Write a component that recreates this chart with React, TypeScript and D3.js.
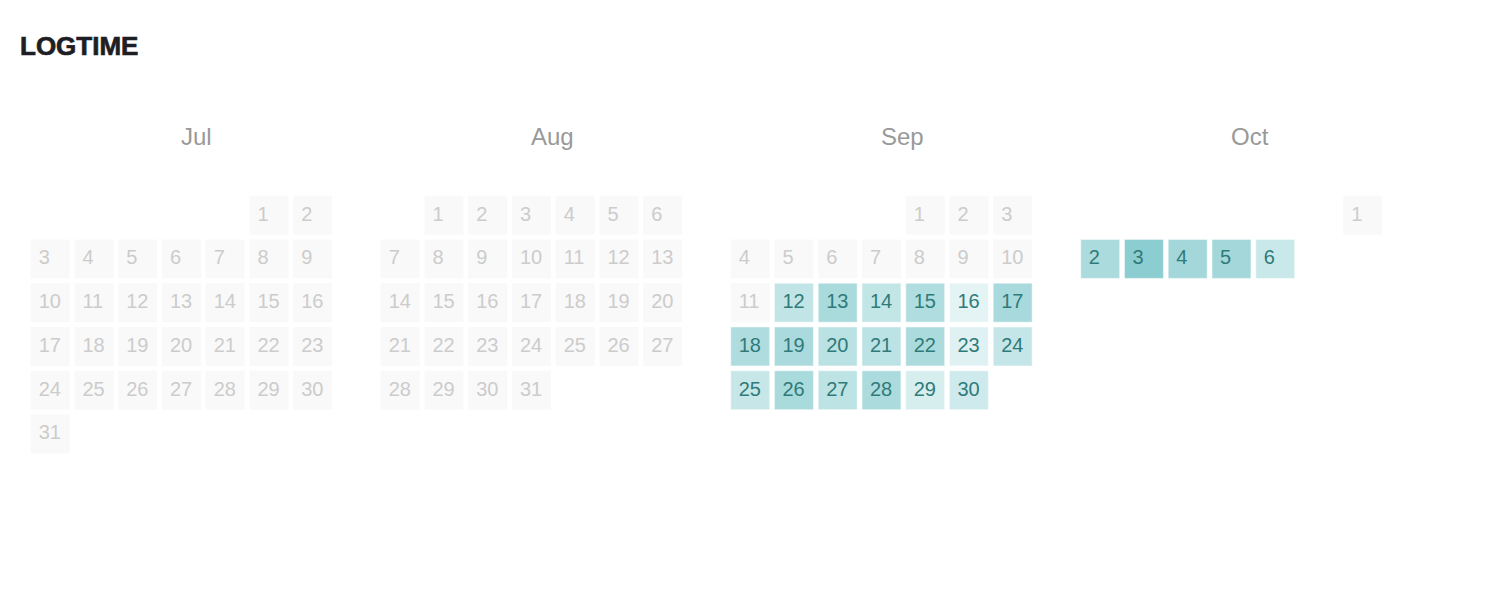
import React from 'react';
import * as d3 from 'd3';

const year = 2017;
const months = ['Jul', 'Aug', 'Sep', 'Oct'];
const weekdays = ['Mon', 'Tue', 'Wed', 'Thu', 'Fri', 'Sat', 'Sun'];
const lastDay = '2017-10-06';

// logged days and hours per day
const logDays = [
  '2017-09-12', '2017-09-13', '2017-09-14', '2017-09-15', '2017-09-16', '2017-09-17',
  '2017-09-18', '2017-09-19', '2017-09-20', '2017-09-21', '2017-09-22', '2017-09-23', '2017-09-24',
  '2017-09-25', '2017-09-26', '2017-09-27', '2017-09-28', '2017-09-29', '2017-09-30',
  '2017-10-02', '2017-10-03', '2017-10-04', '2017-10-05', '2017-10-06',
];
const logHours = [
  5.2, 8.3, 5.1, 7.4, 0.8, 8.4,
  7.5, 8.2, 6.1, 6.0, 8.0, 1.4, 4.7,
  4.6, 8.3, 5.7, 7.9, 2.4, 3.4,
  7.9, 12, 9.1, 9.0, 4.2,
];

const W = 1490;
const H = 596;
const step = 43.75;
const cell = 39;

const parse = d3.timeParse('%Y-%m-%d');
const fmt = d3.timeFormat('%Y-%m-%d');
const hoursByDay = new Map(logDays.map((d, i) => [d, logHours[i]]));

const monthX = d3
  .scaleBand<string>()
  .domain(months)
  .range([30.7, 30.7 + 350 * months.length]);

const colX = d3
  .scaleBand<string>()
  .domain(weekdays)
  .range([0, step * 7 - (step - cell)])
  .paddingInner((step - cell) / step)
  .paddingOuter(0);

const rowY = d3
  .scaleLinear()
  .domain([0, 1])
  .range([195.7, 195.7 + step]);

const color = d3
  .scaleLinear<string>()
  .domain([0, 12])
  .range(['#eaf6f6', '#8ccdd1'])
  .interpolate(d3.interpolateRgb);

const App = () => {
  const end = parse(lastDay);
  return (
    <svg
      width={W}
      height={H}
      style={{ position: 'absolute', left: 0, top: 0, background: '#fff' }}
      fontFamily="'Liberation Sans', Arial, Helvetica, sans-serif"
    >
      <text
        x={20}
        y={55}
        fontSize={26}
        fontWeight={700}
        fill="#1e1e24"
        stroke="#1e1e24"
        strokeWidth={0.7}
      >
        LOGTIME
      </text>
      {months.map((m, mi) => {
        const start = new Date(year, 6 + mi, 1);
        const days = d3.timeDays(start, d3.timeMonth.offset(start, 1));
        const gx = monthX(m) ?? 0;
        return (
          <g key={m} transform={`translate(${gx},0)`}>
            <text x={150.3} y={145} fontSize={24} fill="#999">
              {m}
            </text>
            {days
              .filter((d) => d <= end)
              .map((d) => {
                const key = fmt(d);
                const h = hoursByDay.get(key);
                const wd = weekdays[(d.getDay() + 6) % 7];
                const row = d3.timeMonday.count(d3.timeMonth(d), d);
                const x = colX(wd) ?? 0;
                const y = rowY(row);
                const active = h !== undefined;
                return (
                  <g key={key}>
                    <rect
                      x={x}
                      y={y}
                      width={colX.bandwidth()}
                      height={cell}
                      fill={active ? color(h) : '#f9f9f9'}
                      stroke={active ? 'rgba(255,255,255,0.45)' : 'none'}
                      strokeWidth={1.2}
                    />
                    <text
                      x={x + 8}
                      y={y + 24.8}
                      fontSize={20}
                      fill={active ? '#2f7b79' : '#cccccc'}
                    >
                      {d.getDate()}
                    </text>
                  </g>
                );
              })}
          </g>
        );
      })}
    </svg>
  );
};

export default App;
